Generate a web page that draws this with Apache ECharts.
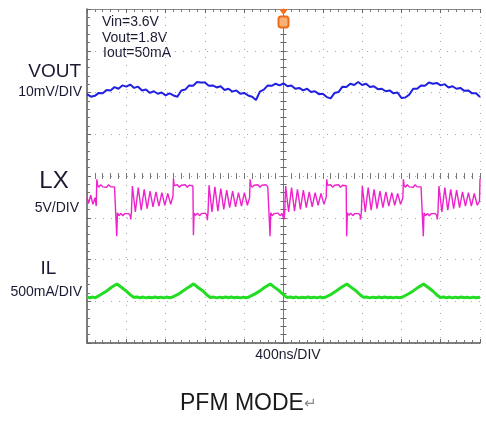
<!DOCTYPE html>
<html>
<head>
<meta charset="utf-8">
<style>
  html, body { margin: 0; padding: 0; background: #ffffff; }
  #scope { width: 486px; height: 427px; }
</style>
<script src="https://cdn.jsdelivr.net/npm/echarts@6/dist/echarts.min.js"></script>
</head>
<body>
<div id="scope"></div>
<script>
// Time base: 400 ns per division, 10 divisions, trigger at 0 ns (screen centre)
const timeMinNs = -2000;
const timeMaxNs = 2000;
const timeDivNs = 400;
const vertDivs = 4;            // +/- 4 divisions vertically

// Channel 1: VOUT ripple (mV, AC), 10 mV/DIV, sampled every 40 ns from the left edge
const voutSampleNs = 40;
const voutRippleMV = [
  -0.5, -1.1, -0.9, -0.2, -0.3, 0.5, 0.4, 1.2, 0.8, 1.6,
  1.3, 1.8, 1.0, 1.3, 0.4, 0.6, -0.2, 0.2, -0.4, -0.1,
  -0.8, -0.3, -0.8, -1.1, 0.4, 0.6, 1.6, 1.5, 2.4, 2.3,
  2.3, 1.5, 1.6, 1.1, 1.4, 0.5, 0.8, 0.1, 0.4, -0.4,
  -0.2, -0.8, -1.1, -1.9, 0.1, 0.6, 1.6, 1.5, 2.0, 1.6,
  2.1, 1.4, 1.6, 0.8, 1.0, 0.4, 0.8, 0.0, 0.2, -0.5,
  -0.4, -1.2, -1.5, -0.2, 0.0, 1.3, 1.2, 2.0, 1.7, 2.4,
  1.7, 2.0, 1.2, 1.4, 0.7, 0.8, 0.2, 0.4, -0.3, -0.1,
  -1.4, -1.3, -0.6, 0.8, 0.8, 1.6, 1.5, 2.3, 2.0, 2.2,
  1.6, 1.9, 1.1, 1.4, 0.8, 1.0, 0.3, 0.4, -0.3, -0.3,
  -1.2
];

// Channel 2: LX switch node (V), 5 V/DIV -- [time ns, volts]
const lxTrace = [
  [-2000, 2.1], [-1985, 1.3], [-1962, 2.3], [-1940, 1.2], [-1918, 2.0], [-1906, 1.0],
  [-1900, 4.2], [-1892, 3.5], [-1880, 3.25], [-1860, 3.55], [-1840, 3.3], [-1820, 3.5], [-1800, 3.25],
  [-1780, 3.55], [-1760, 3.3], [-1740, 3.5], [-1720, 3.3], [-1702, 3.45], [-1697, -2.6], [-1690, 0.2],
  [-1675, -0.15], [-1655, 0.1], [-1635, -0.15], [-1615, 0.1], [-1595, -0.1], [-1575, 0.1], [-1560, -0.15],
  [-1555, -0.6], [-1548, 0.2], [-1538, 3.4], [-1508, 0.3], [-1478, 3.2], [-1448, 0.5], [-1418, 3.0],
  [-1388, 0.7], [-1358, 2.8], [-1328, 0.9], [-1298, 2.7], [-1268, 1.0], [-1238, 2.6], [-1208, 1.1],
  [-1178, 2.5], [-1148, 1.2], [-1125, 2.2],
  [-1120, 4.3], [-1112, 3.45], [-1100, 3.3], [-1080, 3.55], [-1060, 3.25], [-1040, 3.5], [-1020, 3.3],
  [-1000, 3.55], [-980, 3.25], [-960, 3.5], [-940, 3.3], [-922, 3.4], [-917, -2.5], [-910, 0.15],
  [-895, -0.1], [-875, 0.15], [-855, -0.15], [-835, 0.1], [-815, -0.1], [-795, 0.15], [-780, -0.1],
  [-775, -0.7], [-768, 0.3], [-758, 3.5], [-728, 0.3], [-698, 3.3], [-668, 0.4], [-638, 3.1],
  [-608, 0.6], [-578, 2.9], [-548, 0.8], [-518, 2.8], [-488, 0.9], [-458, 2.6], [-428, 1.0],
  [-398, 2.6], [-368, 1.1], [-345, 2.0],
  [-340, 4.2], [-332, 3.5], [-320, 3.25], [-300, 3.5], [-280, 3.3], [-260, 3.55], [-240, 3.25],
  [-220, 3.5], [-200, 3.3], [-180, 3.55], [-160, 3.3], [-142, 3.45], [-137, -2.6], [-130, 0.2],
  [-115, -0.15], [-95, 0.1], [-75, -0.1], [-55, 0.15], [-35, -0.15], [-15, 0.1], [0, -0.1],
  [5, -0.6], [12, 0.2], [22, 3.4], [52, 0.3], [82, 3.2], [112, 0.4], [142, 3.0],
  [172, 0.6], [202, 2.9], [232, 0.8], [262, 2.7], [292, 0.9], [322, 2.6], [352, 1.1],
  [382, 2.5], [412, 1.2], [435, 2.1],
  [440, 4.2], [448, 3.5], [460, 3.3], [480, 3.55], [500, 3.25], [520, 3.5], [540, 3.3],
  [560, 3.55], [580, 3.25], [600, 3.5], [620, 3.3], [638, 3.45], [643, -2.6], [650, 0.2],
  [665, -0.1], [685, 0.15], [705, -0.15], [725, 0.1], [745, -0.1], [765, 0.1], [780, -0.15],
  [785, -0.6], [792, 0.2], [802, 3.4], [832, 0.3], [862, 3.2], [892, 0.5], [922, 3.0],
  [952, 0.7], [982, 2.8], [1012, 0.8], [1042, 2.7], [1072, 1.0], [1102, 2.6], [1132, 1.1],
  [1162, 2.5], [1192, 1.2], [1215, 2.0],
  [1220, 4.2], [1228, 3.5], [1240, 3.25], [1260, 3.55], [1280, 3.3], [1300, 3.5], [1320, 3.25],
  [1340, 3.55], [1360, 3.3], [1380, 3.5], [1400, 3.3], [1418, 3.45], [1423, -2.6], [1430, 0.2],
  [1445, -0.15], [1465, 0.1], [1485, -0.15], [1505, 0.1], [1525, -0.1], [1545, 0.1], [1560, -0.15],
  [1565, -0.6], [1572, 0.2], [1582, 3.4], [1612, 0.3], [1642, 3.2], [1672, 0.5], [1702, 3.0],
  [1732, 0.7], [1762, 2.9], [1792, 0.8], [1822, 2.7], [1852, 1.0], [1882, 2.6], [1912, 1.0],
  [1942, 2.5], [1972, 1.1], [1995, 1.6], [2000, 4.3]
];

// Channel 3: IL inductor current (mA), 500 mA/DIV -- [time ns, mA]
const ilTrace = [
  [-2000, 3], [-1970, -4], [-1940, 5], [-1915, -3],
  [-1900, 0], [-1850, 42], [-1800, 78], [-1750, 123], [-1695, 162], [-1650, 122], [-1600, 76],
  [-1555, 28], [-1525, 2], [-1490, 6], [-1460, -4], [-1430, 5], [-1400, -5], [-1370, 3],
  [-1340, -4], [-1310, 6], [-1280, -3], [-1250, 4], [-1220, -5], [-1190, 5], [-1160, -3], [-1135, 3],
  [-1120, 0], [-1070, 40], [-1020, 80], [-970, 121], [-915, 163], [-870, 120], [-820, 78],
  [-775, 26], [-745, 1], [-710, 5], [-680, -5], [-650, 4], [-620, -4], [-590, 5],
  [-560, -3], [-530, 6], [-500, -4], [-470, 3], [-440, -5], [-410, 4], [-380, -3], [-355, 4],
  [-340, 0], [-290, 43], [-240, 79], [-190, 122], [-135, 161], [-90, 121], [-40, 77],
  [5, 27], [35, 1], [70, 6], [100, -4], [130, 5], [160, -5], [190, 3],
  [220, -4], [250, 5], [280, -3], [310, 4], [340, -5], [370, 5], [400, -3], [425, 3],
  [440, 0], [490, 41], [540, 80], [590, 122], [645, 162], [690, 121], [740, 77],
  [785, 27], [815, 2], [850, 5], [880, -5], [910, 4], [940, -4], [970, 6],
  [1000, -3], [1030, 5], [1060, -4], [1090, 3], [1120, -5], [1150, 4], [1180, -3], [1205, 3],
  [1220, 0], [1270, 42], [1320, 79], [1370, 121], [1425, 162], [1470, 122], [1520, 78],
  [1565, 26], [1595, 1], [1630, 6], [1660, -4], [1690, 5], [1720, -5], [1750, 4],
  [1780, -3], [1810, 5], [1840, -4], [1870, 3], [1900, -5], [1930, 4], [1960, -3], [2000, 2]
];

// Channel settings: units per division and screen position of the reference level (divisions)
const channels = {
  vout: { perDiv: 10,  offsetDiv: 2.01,  color: '#2020e0', width: 2 },
  lx:   { perDiv: 5,   offsetDiv: -0.92, color: '#ee22cc', width: 1.4 },
  il:   { perDiv: 500, offsetDiv: -2.91, color: '#22dd22', width: 3 }
};

const toScreen = (ch, t, v) => [t, ch.offsetDiv + v / ch.perDiv];

const voutData = voutRippleMV.map((v, i) => toScreen(channels.vout, timeMinNs + i * voutSampleNs, v));
const lxData = lxTrace.map(p => toScreen(channels.lx, p[0], p[1]));
const ilData = ilTrace.map(p => toScreen(channels.il, p[0], p[1]));

const FONT = '"Liberation Sans", Arial, "DejaVu Sans", sans-serif';
const INK = '#1a1a33';

function xAxisDef(extra) {
  return Object.assign({
    type: 'value', min: timeMinNs, max: timeMaxNs, interval: timeDivNs,
    axisLabel: { show: false },
    splitLine: { show: false },
    axisLine: { show: false, onZero: false },
    axisTick: { show: true, inside: true, length: 4, lineStyle: { color: '#666', width: 1 } },
    minorTick: { show: true, splitNumber: 5, length: 3, lineStyle: { color: '#777', width: 1 } }
  }, extra);
}
function yAxisDef(extra) {
  return Object.assign({
    type: 'value', min: -vertDivs, max: vertDivs, interval: 1,
    axisLabel: { show: false },
    splitLine: { show: false },
    axisLine: { show: false, onZero: false },
    axisTick: { show: true, inside: true, length: 4, lineStyle: { color: '#666', width: 1 } },
    minorTick: { show: true, splitNumber: 5, length: 3, lineStyle: { color: '#777', width: 1 } }
  }, extra);
}

const chart = echarts.init(document.getElementById('scope'), null, { renderer: 'canvas' });

chart.setOption({
  animation: false,
  backgroundColor: '#ffffff',
  grid: { left: 87, top: 9, right: 6, bottom: 84, containLabel: false },
  xAxis: [
    // bottom frame edge + vertical graticule
    xAxisDef({
      position: 'bottom',
      axisLine: { show: true, onZero: false, lineStyle: { color: '#555', width: 1.5 } },
      splitLine: { show: true, lineStyle: { color: '#a8a8a8', width: 1, type: [1, 7] } }
    }),
    // top frame edge
    xAxisDef({
      position: 'top',
      axisLine: { show: true, onZero: false, lineStyle: { color: '#888', width: 1.2 } }
    }),
    // horizontal centre line, ticks on both sides
    xAxisDef({
      position: 'bottom',
      axisLine: { show: false, onZero: true, onZeroAxisIndex: 0 },
      axisTick: { show: true, inside: true, length: 3, lineStyle: { color: '#777' } },
      minorTick: { show: true, splitNumber: 5, length: 3, lineStyle: { color: '#777' } }
    }),
    xAxisDef({
      position: 'bottom',
      axisLine: { show: false, onZero: true, onZeroAxisIndex: 0 },
      axisTick: { show: true, inside: false, length: 3, lineStyle: { color: '#777' } },
      minorTick: { show: true, splitNumber: 5, length: 3, lineStyle: { color: '#777' } }
    })
  ],
  yAxis: [
    // left frame edge + horizontal graticule
    yAxisDef({
      position: 'left',
      axisLine: { show: true, onZero: false, lineStyle: { color: '#555', width: 1.5 } },
      splitLine: { show: true, lineStyle: { color: '#a8a8a8', width: 1, type: [1, 7] } }
    }),
    // vertical centre line, ticks on both sides
    yAxisDef({
      position: 'left',
      axisLine: { show: true, onZero: true, onZeroAxisIndex: 0, lineStyle: { color: '#777', width: 1 } },
      axisTick: { show: true, inside: true, length: 3, lineStyle: { color: '#666' } },
      minorTick: { show: true, splitNumber: 5, length: 3, lineStyle: { color: '#666' } }
    }),
    yAxisDef({
      position: 'left',
      axisLine: { show: false, onZero: true, onZeroAxisIndex: 0 },
      axisTick: { show: true, inside: false, length: 3, lineStyle: { color: '#666' } },
      minorTick: { show: true, splitNumber: 5, length: 3, lineStyle: { color: '#666' } }
    })
  ],
  series: [
    {
      name: 'VOUT', type: 'line', xAxisIndex: 0, yAxisIndex: 0,
      data: voutData, showSymbol: false, z: 3,
      lineStyle: { color: channels.vout.color, width: channels.vout.width },
      markPoint: {
        silent: true,
        label: { show: false },
        data: [
          { coord: [0, vertDivs], symbol: 'triangle', symbolRotate: 180, symbolSize: [9, 6],
            symbolOffset: [0, 3], itemStyle: { color: '#f07020' } },
          { coord: [0, vertDivs], symbol: 'roundRect', symbolSize: [10, 11],
            symbolOffset: [0, 13], itemStyle: { color: '#f8b074', borderColor: '#ee6a1a', borderWidth: 2 } }
        ]
      }
    },
    {
      name: 'LX', type: 'line', xAxisIndex: 0, yAxisIndex: 0,
      data: lxData, showSymbol: false, z: 3,
      lineStyle: { color: channels.lx.color, width: channels.lx.width }
    },
    {
      name: 'IL', type: 'line', xAxisIndex: 0, yAxisIndex: 0,
      data: ilData, showSymbol: false, z: 3,
      lineStyle: { color: channels.il.color, width: channels.il.width }
    }
  ],
  graphic: [
    { type: 'text', style: { text: 'VOUT', x: 81, y: 72, font: '19px ' + FONT, fill: INK, align: 'right', verticalAlign: 'middle', textAlign: 'right', textVerticalAlign: 'middle' } },
    { type: 'text', style: { text: '10mV/DIV', x: 82, y: 92, font: '14px ' + FONT, fill: INK, align: 'right', verticalAlign: 'middle', textAlign: 'right', textVerticalAlign: 'middle' } },
    { type: 'text', style: { text: 'LX', x: 54, y: 181, font: '24px ' + FONT, fill: INK, align: 'center', verticalAlign: 'middle', textAlign: 'center', textVerticalAlign: 'middle' } },
    { type: 'text', style: { text: '5V/DIV', x: 79, y: 208, font: '14px ' + FONT, fill: INK, align: 'right', verticalAlign: 'middle', textAlign: 'right', textVerticalAlign: 'middle' } },
    { type: 'text', style: { text: 'IL', x: 48.5, y: 268.5, font: '19px ' + FONT, fill: INK, align: 'center', verticalAlign: 'middle', textAlign: 'center', textVerticalAlign: 'middle' } },
    { type: 'text', style: { text: '500mA/DIV', x: 82, y: 292.5, font: '14px ' + FONT, fill: INK, align: 'right', verticalAlign: 'middle', textAlign: 'right', textVerticalAlign: 'middle' } },
    { type: 'text', style: { text: 'Vin=3.6V', x: 102, y: 22.5, font: '14px ' + FONT, fill: INK, align: 'left', verticalAlign: 'middle', textAlign: 'left', textVerticalAlign: 'middle' } },
    { type: 'text', style: { text: 'Vout=1.8V', x: 102, y: 38, font: '14px ' + FONT, fill: INK, align: 'left', verticalAlign: 'middle', textAlign: 'left', textVerticalAlign: 'middle' } },
    { type: 'text', style: { text: 'Iout=50mA', x: 103, y: 53.5, font: '14px ' + FONT, fill: INK, align: 'left', verticalAlign: 'middle', textAlign: 'left', textVerticalAlign: 'middle' } },
    { type: 'text', style: { text: '400ns/DIV', x: 288, y: 355, font: '14px ' + FONT, fill: INK, align: 'center', verticalAlign: 'middle', textAlign: 'center', textVerticalAlign: 'middle' } },
    { type: 'text', style: {
        text: '{t|PFM MODE}{m|\u21B5}', x: 180, y: 404, align: 'left', verticalAlign: 'middle', textAlign: 'left', textVerticalAlign: 'middle',
        rich: {
          t: { font: '23px ' + FONT, fill: '#1a1a1a', color: '#1a1a1a' },
          m: { font: '15px "DejaVu Sans", sans-serif', fill: '#8a8a8a', color: '#8a8a8a' }
        }
      } }
  ]
});
</script>
</body>
</html>
